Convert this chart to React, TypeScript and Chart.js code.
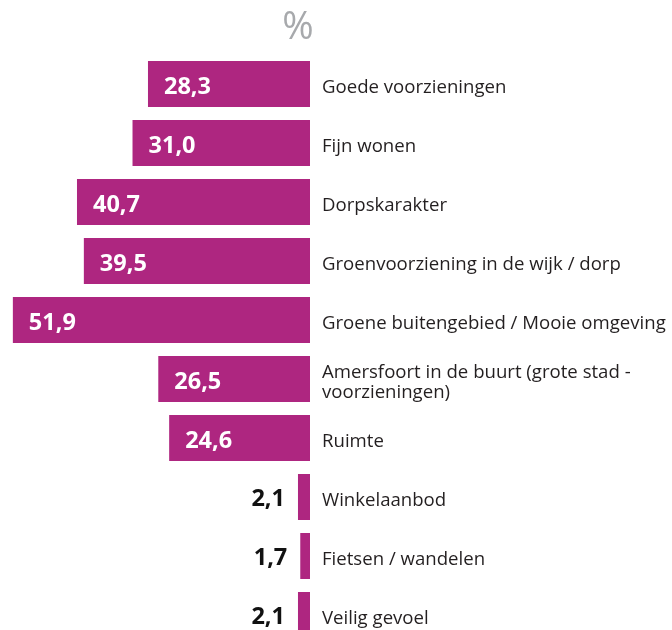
import React, { useEffect, useRef } from "react";
import { Chart, registerables } from "chart.js";

Chart.register(...registerables);

const categories: (string | string[])[] = [
  "Goede voorzieningen",
  "Fijn wonen",
  "Dorpskarakter",
  "Groenvoorziening in de wijk / dorp",
  "Groene buitengebied / Mooie omgeving",
  ["Amersfoort in de buurt (grote stad -", "voorzieningen)"],
  "Ruimte",
  "Winkelaanbod",
  "Fietsen / wandelen",
  "Veilig gevoel",
];

const values: number[] = [28.3, 31.0, 40.7, 39.5, 51.9, 26.5, 24.6, 2.1, 1.7, 2.1];

const titleText = "%";
const barColor = "#AE2680";
const FONT = "'Open Sans', 'Noto Sans', sans-serif";

const labelPlugin = {
  id: "labelPlugin",
  afterDatasetsDraw(chart: any) {
    const ctx = chart.ctx;
    const meta = chart.getDatasetMeta(0);
    const area = chart.chartArea;
    ctx.save();
    // title
    ctx.fillStyle = "#a7a9ac";
    ctx.font = `38px ${FONT}`;
    ctx.textAlign = "center";
    ctx.textBaseline = "alphabetic";
    ctx.fillText(titleText, 298, 39);

    meta.data.forEach((bar: any, i: number) => {
      const v = values[i];
      const txt = v.toFixed(1).replace(".", ",");
      const left = Math.min(bar.x, bar.base);
      ctx.font = `bold 23.5px ${FONT}`;
      if (v > 10) {
        ctx.fillStyle = "#ffffff";
        ctx.textAlign = "left";
        ctx.fillText(txt, left + 16, bar.y + 10);
      } else {
        ctx.fillStyle = "#111111";
        ctx.textAlign = "right";
        ctx.fillText(txt, left - 13, bar.y + 9);
      }
      // category label
      ctx.font = `18.6px ${FONT}`;
      ctx.fillStyle = "#231f20";
      ctx.textAlign = "left";
      const cat = categories[i];
      const lines = Array.isArray(cat) ? cat : [cat];
      const lh = 20;
      const startY = bar.y + 9 - ((lines.length - 1) * lh) / 2;
      lines.forEach((ln, k) => {
        ctx.fillText(ln, area.right + 12, startY + k * lh);
      });
    });
    ctx.restore();
  },
};

export default function App() {
  const ref = useRef<HTMLCanvasElement | null>(null);
  useEffect(() => {
    if (!ref.current) return;
    const chart = new Chart(ref.current, {
      type: "bar",
      data: {
        labels: categories.map((c) => (Array.isArray(c) ? c.join(" ") : c)),
        datasets: [
          {
            data: values,
            backgroundColor: barColor,
            borderWidth: 0,
            barPercentage: 0.78,
            categoryPercentage: 1,
          },
        ],
      },
      options: {
        indexAxis: "y",
        animation: false,
        responsive: true,
        maintainAspectRatio: false,
        layout: { padding: { left: 10, right: 362, top: 54.5, bottom: 15.5 } },
        scales: {
          x: { type: "linear", reverse: true, min: 0, max: 52.4, display: false },
          y: { type: "category", display: false, offset: true },
        },
        plugins: {
          legend: { display: false },
          tooltip: { enabled: false },
          title: { display: false },
        },
      },
      plugins: [labelPlugin],
    });
    return () => chart.destroy();
  }, []);
  return (
    <div
      style={{
        position: "fixed",
        left: 0,
        top: 0,
        width: 672,
        height: 630,
        overflow: "hidden",
        background: "#fff",
      }}
    >
      <div style={{ position: "relative", width: 672, height: 660 }}>
        <canvas ref={ref} />
      </div>
    </div>
  );
}
